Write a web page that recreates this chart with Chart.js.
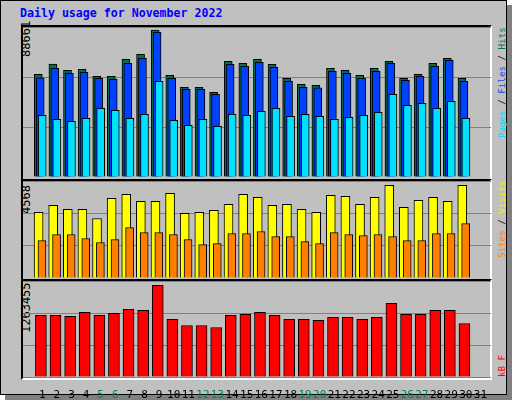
<!DOCTYPE html>
<html>
<head>
<meta charset="utf-8">
<script src="https://cdn.jsdelivr.net/npm/chart.js@4/dist/chart.umd.min.js"></script>
<style>
  body { margin: 0; background: #fff; }
  #frame { position: absolute; left: 0; top: 0; width: 505px; height: 393px; background: #c0c0c0;
           border: 1px solid #000; box-shadow: 5px 5px 0 #808080; font-family: 'DejaVu Sans Mono', monospace; }
  .panel { position: absolute; left: 20px; width: 471px; border-top: 2px solid #000; border-left: 2px solid #000;
           border-right: 2px solid #fff; border-bottom: 2px solid #fff; box-sizing: border-box; }
  .box { position: absolute; }
  .rot { position: absolute; transform: rotate(-90deg); transform-origin: left top; white-space: nowrap; font-size: 12px; }
  .side { font-size: 9.2px; }
  #title { position: absolute; left: 19px; top: 5px; color: #0000ff; font-weight: bold; font-size: 11.6px; }
</style>
</head>
<body>
<div id="frame">
  <div id="title">Daily usage for November 2022</div>
  <div class="panel" style="top:24px;height:156px"></div>
  <div class="panel" style="top:178px;height:102px"></div>
  <div class="panel" style="top:278px;height:101px"></div>

  <div class="rot" style="left:18px;top:56px">88661</div>
  <div class="rot" style="left:18px;top:213px">4568</div>
  <div class="rot" style="left:18px;top:332px">1263455</div>

  <div class="rot side" style="left:495px;top:137px"><span style="color:#00d8f8">Pages</span> / <span style="color:#1848e0">Files</span> / <span style="color:#007050">Hits</span></div>
  <div class="rot side" style="left:495px;top:257px"><span style="color:#ff8000">Sites</span> / <span style="color:#f0f000">Visits</span></div>
  <div class="rot side" style="left:495px;top:376px"><span style="color:#ff0000">kB F</span></div>

  <div class="box" style="left:22px;top:26px;width:468px;height:150px"><canvas id="c1"></canvas></div>
  <div class="box" style="left:22px;top:180px;width:468px;height:97px"><canvas id="c2"></canvas></div>
  <div class="box" style="left:22px;top:280px;width:468px;height:118px"><canvas id="c3"></canvas></div>
</div>
<script>
// data, day 1..30 (31 has no data yet)
const days = Array.from({ length: 31 }, (_, i) => i + 1);
const weekendDays = [5, 6, 12, 13, 19, 20, 26, 27];

const hits = [61940, 68150, 64350, 64950, 60730, 60730, 70990, 74000, 88661, 61340,
  54100, 54100, 51080, 69780, 68570, 70990, 67970, 59530, 55910, 55300,
  65560, 64350, 61340, 65560, 69780, 59530, 61940, 68570, 71590, 59530];
const files = [59890, 65550, 62540, 63140, 59520, 58920, 68570, 71580, 87260, 59520,
  52890, 52890, 49870, 67960, 66760, 69170, 66150, 57710, 54090, 53850,
  63740, 62540, 59520, 63740, 68570, 58320, 60730, 66760, 70380, 57710];
const pages = [37210, 34800, 33590, 35400, 41430, 40220, 35400, 37810, 57710, 34190,
  31180, 34800, 30580, 37810, 37210, 39620, 41430, 36600, 37810, 36600,
  34800, 36000, 37210, 39020, 49870, 43240, 44440, 41430, 45650, 35400];
const visits = [3232, 3578, 3380, 3380, 2935, 3925, 4123, 3776, 3776, 4172,
  3183, 3232, 3331, 3628, 4123, 3974, 3578, 3628, 3380, 3232,
  4073, 4024, 3628, 3974, 4568, 3479, 3826, 3974, 3776, 4568];
const sites = [1847, 2144, 2144, 1946, 1748, 1896, 2490, 2243, 2243, 2144,
  1896, 1649, 1698, 2193, 2193, 2292, 2045, 2045, 1797, 1698,
  2243, 2144, 2094, 2144, 2045, 1847, 1847, 2193, 2193, 2688];
const kbytes = [848400, 848400, 834600, 889900, 848400, 876100, 931400, 917600, 1263455, 793100,
  710100, 710100, 682400, 848400, 862300, 889900, 848400, 793100, 793100, 779300,
  820800, 820800, 793100, 820800, 1014400, 862300, 862300, 917600, 917600, 737800];

// turn a series into {x, y} points, shifted a bit inside the day slot
function pts(values, shift) {
  return values.map((v, i) => ({ x: days[i] + shift, y: v }));
}

function bar(label, values, shift, color, width, order) {
  return {
    label: label, data: pts(values, shift), backgroundColor: color,
    borderColor: '#000', borderWidth: 1, barThickness: width, grouped: false, order: order
  };
}

function makeChart(id, datasets, yMax, showDays) {
  new Chart(document.getElementById(id), {
    type: 'bar',
    data: { datasets: datasets },
    options: {
      responsive: true, maintainAspectRatio: false, animation: false,
      layout: { padding: 0 },
      plugins: { legend: { display: false }, tooltip: { enabled: false } },
      scales: {
        x: {
          type: 'linear', min: 0.2, max: 31.2, display: showDays,
          grid: { display: false }, border: { display: false },
          afterBuildTicks: s => { s.ticks = days.map(d => ({ value: d })); },
          afterFit: s => { s.height = showDays ? 22 : 0; },
          ticks: {
            padding: 4, autoSkip: false, maxRotation: 0,
            font: { family: 'DejaVu Sans Mono', size: 11 },
            color: ctx => weekendDays.includes(ctx.tick.value) ? '#008060' : '#000'
          }
        },
        y: {
          min: 0, max: yMax,
          afterFit: s => { s.width = 0; },
          ticks: { display: false, stepSize: yMax / 3 },
          border: { display: false },
          grid: { color: '#808080', lineWidth: 1, drawTicks: false }
        }
      }
    }
  });
}

makeChart('c1', [
  bar('Hits', hits, -0.27, '#007050', 8, 3),
  bar('Files', files, -0.14, '#0040ff', 8, 2),
  bar('Pages', pages, 0.0, '#00e0ff', 8, 1)
], 90480, false);

makeChart('c2', [
  bar('Visits', visits, -0.25, '#ffff00', 9, 2),
  bar('Sites', sites, -0.02, '#ff8000', 8, 1)
], 4782, false);

makeChart('c3', [
  bar('kB F', kbytes, -0.09, '#ff0000', 11, 1)
], 1322860, true);
</script>
</body>
</html>
